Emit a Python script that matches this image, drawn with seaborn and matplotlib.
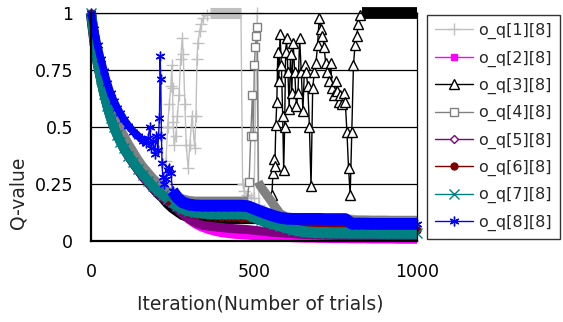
import numpy as np
import matplotlib
matplotlib.use("Agg")
import matplotlib.pyplot as plt
import seaborn as sns
from matplotlib.lines import Line2D

# ---- data ----
x_grid = [0, 10, 20, 30, 40, 50, 60, 70, 80, 90, 100,
          115, 130, 145, 160, 175, 190, 205, 220, 235, 250, 265, 280,
          300, 320, 340, 360, 380, 400, 420, 440, 460, 480, 500, 520, 540, 560, 580,
          600, 620, 640, 660, 680, 700, 720, 740, 760, 780, 800, 820, 840, 860, 880,
          900, 920, 940, 960, 980, 1000]

x1 = [0, 10, 20, 30, 40, 50, 60, 70, 80, 90, 100,
      115, 130, 145, 160, 175, 190, 205, 220,
      225, 230, 235, 240, 245, 248, 250, 252, 255, 260,
      265, 270, 275, 280, 283, 288, 292, 298, 303, 310,
      318, 322, 325, 328, 333, 338, 345, 355, 365,
      380, 400, 420, 440, 460,
      465, 470, 480, 490, 500, 510, 515,
      520, 540, 560, 580, 600, 620, 640, 660, 680, 700, 720, 740, 760, 780,
      800, 820, 840, 860, 880, 900, 920, 940, 960, 980, 1000]
q1 = [1.0, 0.9, 0.81, 0.74, 0.68, 0.625, 0.58, 0.54, 0.505, 0.475, 0.45,
      0.41, 0.375, 0.345, 0.315, 0.29, 0.265, 0.245, 0.225,
      0.25, 0.35, 0.5, 0.6, 0.68, 0.77, 0.67, 0.52, 0.42, 0.46,
      0.55, 0.64, 0.8, 0.89, 0.82, 0.6, 0.42, 0.32, 0.42, 0.55,
      0.41, 0.55, 0.8, 0.87, 0.92, 0.95, 0.98, 0.99, 1.0,
      1.0, 1.0, 1.0, 1.0, 1.0,
      0.25, 0.22, 0.2, 0.19, 0.19, 1.0, 0.16,
      0.14, 0.12, 0.11, 0.105, 0.1, 0.1, 0.1, 0.1, 0.1, 0.1, 0.095, 0.095, 0.095, 0.095,
      0.095, 0.09, 0.09, 0.09, 0.09, 0.09, 0.09, 0.09, 0.09, 0.09, 0.09]

q2 = [1.0, 0.88, 0.78, 0.71, 0.645, 0.59, 0.54, 0.5, 0.465, 0.435, 0.405,
      0.37, 0.34, 0.31, 0.28, 0.255, 0.23, 0.21, 0.19, 0.175, 0.155, 0.135, 0.115,
      0.09, 0.07, 0.056, 0.046, 0.038, 0.032, 0.028, 0.025, 0.023, 0.021, 0.019, 0.017,
      0.015, 0.013, 0.012, 0.011, 0.010, 0.009, 0.008, 0.008, 0.007, 0.007, 0.006, 0.006,
      0.006, 0.005, 0.005, 0.005, 0.004, 0.004, 0.004, 0.004, 0.003, 0.003, 0.003, 0.003]

x3 = [0, 10, 20, 30, 40, 50, 60, 70, 80, 90, 100,
      115, 130, 145, 160, 175, 190, 205, 220, 235, 250, 265, 280,
      300, 320, 340, 360, 380, 400, 420, 440, 460, 480, 500, 520, 540,
      552, 555, 558, 561, 564, 567, 570, 573, 576, 580, 584, 588, 591, 594, 597, 600,
      604, 608, 612, 616, 620,
      625, 630, 635, 640, 645, 650, 655, 660, 665, 670,
      675, 680, 685, 690, 695, 700, 705, 710, 715, 720,
      725, 730, 735, 740, 745, 750, 755, 760, 765, 770,
      775, 780, 785, 790, 795, 800, 805, 810, 815, 820, 825, 830,
      840, 860, 880, 900, 920, 940, 960, 980, 1000]
q3 = [1.0, 0.885, 0.79, 0.72, 0.655, 0.6, 0.55, 0.51, 0.475, 0.445, 0.415,
      0.38, 0.345, 0.315, 0.285, 0.26, 0.235, 0.21, 0.19, 0.165, 0.145, 0.13, 0.115,
      0.105, 0.1, 0.098, 0.097, 0.097, 0.097, 0.097, 0.097, 0.097, 0.097, 0.097, 0.097, 0.097,
      0.097, 0.2, 0.3, 0.36, 0.33, 0.51, 0.61, 0.83, 0.7, 0.91, 0.77, 0.55, 0.31, 0.5, 0.83, 0.89,
      0.74, 0.58, 0.82, 0.65, 0.87,
      0.74, 0.59, 0.65, 0.89, 0.74, 0.57, 0.77, 0.74, 0.68, 0.5,
      0.24, 0.67, 0.74, 0.78, 0.86, 0.98, 0.93, 0.9, 0.85, 0.78,
      0.74, 0.7, 0.78, 0.67, 0.64, 0.7, 0.66, 0.61, 0.64, 0.6,
      0.65, 0.61, 0.48, 0.32, 0.2, 0.48, 0.77, 0.86, 0.9, 0.95, 0.99, 1.0,
      1.0, 1.0, 1.0, 1.0, 1.0, 1.0, 1.0, 1.0, 1.0]

x4 = [0, 10, 20, 30, 40, 50, 60, 70, 80, 90, 100,
      115, 130, 145, 160, 175, 190, 205, 220, 235, 250, 265, 280,
      300, 320, 340, 360, 380, 400, 420, 440, 460, 480,
      485, 490, 495, 498, 501, 504, 507, 510, 513,
      520, 540, 560, 580, 600, 620, 640, 660, 680, 700, 720, 740, 760, 780,
      800, 820, 840, 860, 880, 900, 920, 940, 960, 980, 1000]
q4 = [1.0, 0.91, 0.825, 0.755, 0.695, 0.64, 0.595, 0.555, 0.52, 0.49, 0.465,
      0.425, 0.39, 0.355, 0.325, 0.3, 0.275, 0.255, 0.235, 0.218, 0.205, 0.195, 0.185,
      0.178, 0.175, 0.175, 0.175, 0.175, 0.175, 0.175, 0.175, 0.175, 0.176,
      0.26, 0.46, 0.64, 0.46, 0.77, 0.85, 0.9, 0.94, 0.26,
      0.24, 0.2, 0.16, 0.12, 0.105, 0.102, 0.1, 0.1, 0.1, 0.1, 0.1, 0.1, 0.1, 0.1,
      0.092, 0.092, 0.092, 0.091, 0.091, 0.091, 0.09, 0.09, 0.09, 0.09, 0.09]

q5 = [1.0, 0.88, 0.78, 0.71, 0.645, 0.59, 0.54, 0.5, 0.465, 0.435, 0.405,
      0.37, 0.34, 0.31, 0.28, 0.255, 0.23, 0.21, 0.19, 0.175, 0.16, 0.14, 0.12,
      0.097, 0.08, 0.07, 0.065, 0.062, 0.059, 0.056, 0.054, 0.052, 0.05, 0.047, 0.044,
      0.041, 0.038, 0.036, 0.034, 0.032, 0.03, 0.029, 0.028, 0.027, 0.026, 0.025, 0.024,
      0.024, 0.023, 0.022, 0.022, 0.021, 0.021, 0.02, 0.02, 0.02, 0.019, 0.019, 0.019]

q6 = [1.0, 0.88, 0.78, 0.71, 0.645, 0.59, 0.54, 0.5, 0.465, 0.435, 0.41,
      0.375, 0.34, 0.31, 0.285, 0.26, 0.235, 0.215, 0.195, 0.18, 0.165, 0.15, 0.135,
      0.125, 0.118, 0.113, 0.11, 0.108, 0.106, 0.105, 0.104, 0.103, 0.102, 0.095, 0.088,
      0.082, 0.078, 0.074, 0.071, 0.069, 0.068, 0.068, 0.07, 0.072, 0.072, 0.072, 0.072,
      0.071, 0.05, 0.05, 0.05, 0.05, 0.05, 0.049, 0.049, 0.049, 0.048, 0.048, 0.048]

q7 = [1.0, 0.88, 0.78, 0.71, 0.645, 0.59, 0.54, 0.5, 0.465, 0.435, 0.41,
      0.375, 0.345, 0.315, 0.29, 0.265, 0.24, 0.22, 0.2, 0.185, 0.17, 0.155, 0.142,
      0.132, 0.126, 0.123, 0.121, 0.12, 0.12, 0.12, 0.12, 0.12, 0.118, 0.105, 0.093,
      0.083, 0.074, 0.066, 0.058, 0.05, 0.044, 0.04, 0.038, 0.037, 0.037, 0.036, 0.036,
      0.036, 0.035, 0.035, 0.035, 0.035, 0.035, 0.034, 0.034, 0.034, 0.034, 0.034, 0.034]

x8 = [0, 10, 20, 30, 40, 50, 60, 70, 80, 90, 100,
      115, 130, 145, 160,
      170, 175, 180, 185, 190, 195, 200, 205, 210,
      212, 214, 216, 218, 220,
      225, 230, 235, 240, 245, 250,
      265, 280,
      300, 320, 340, 360, 380, 400, 420, 440, 460, 480, 500, 520, 540, 560, 580,
      600, 620, 640, 660, 680, 700, 720, 740, 760, 780, 800, 820, 840, 860, 880,
      900, 920, 940, 960, 980, 1000]
q8 = [1.0, 0.93, 0.86, 0.80, 0.745, 0.695, 0.65, 0.615, 0.585, 0.56, 0.535,
      0.505, 0.48, 0.46, 0.44,
      0.43, 0.45, 0.5, 0.41, 0.44, 0.38, 0.46, 0.4, 0.54,
      0.81, 0.71, 0.46, 0.34, 0.28,
      0.25, 0.27, 0.31, 0.32, 0.3, 0.22,
      0.19, 0.17,
      0.16, 0.156, 0.155, 0.155, 0.155, 0.155, 0.155, 0.155, 0.155, 0.153, 0.142, 0.13,
      0.12, 0.11, 0.102, 0.098, 0.097, 0.097, 0.097, 0.097, 0.097, 0.096, 0.096, 0.096,
      0.096, 0.076, 0.076, 0.076, 0.075, 0.075, 0.075, 0.075, 0.075, 0.075, 0.075, 0.075]

labels = ["o_q[1][8]", "o_q[2][8]", "o_q[3][8]", "o_q[4][8]",
          "o_q[5][8]", "o_q[6][8]", "o_q[7][8]", "o_q[8][8]"]

# ---- styles ----
sns.set_style("white")
plt.rcParams["font.family"] = ["DejaVu Sans"]

# (x, y, color, marker, ms, face, band ranges (lo, hi, lw), markers on band)
styles = [
    (x1, q1, "#C0C0C0", "+", 8.5, "none",
     [(0, 220, 7.0), (365, 460, 8.0), (520, 1000, 7.0)], False),
    (x_grid, q2, "#FF00FF", "s", 4.5, "#FF00FF", [(0, 1000, 5.0)], False),
    (x3, q3, "#000000", "^", 7.5, "white", [(0, 552, 7.5), (830, 1000, 8.5)], False),
    (x4, q4, "#808080", "s", 6.0, "white", [(0, 480, 6.5), (513, 1000, 6.5)], False),
    (x_grid, q5, "#800080", "D", 4.0, "white", [(0, 1000, 6.5)], False),
    (x_grid, q6, "#800000", "o", 5.0, "#800000", [(0, 1000, 4.5)], True),
    (x_grid, q7, "#008080", "x", 7.5, "#008080", [(0, 240, 7.0), (240, 1000, 8.0)], True),
    (x8, q8, "#0000FF", (6, 2, 0), 7.0, "#0000FF", [(0, 170, 5.5), (250, 1000, 8.5)], True),
]

fig = plt.figure(figsize=(5.63, 3.22), dpi=100)
ax = fig.add_axes([91 / 563, 1 - 241 / 322, 326 / 563, 228 / 322])

handles = []
for (xs, ys, c, m, ms, face, bands, mark_band), lab in zip(styles, labels):
    x = np.array(xs, dtype=float)
    y = np.array(ys, dtype=float)
    in_band = np.zeros(len(x), dtype=bool)
    # dense marker runs drawn as a solid band
    for lo, hi, band_lw in bands:
        seg = (x >= lo) & (x <= hi)
        in_band |= seg
        if seg.sum() > 1:
            sns.lineplot(x=x[seg], y=y[seg], color=c, lw=band_lw, sort=False,
                         estimator=None, solid_capstyle="butt", clip_on=False, ax=ax)
    marks = np.arange(len(x)) if mark_band else np.flatnonzero(~in_band)
    if len(marks):
        sns.lineplot(x=x, y=y, color=c, lw=1, sort=False, estimator=None,
                     marker=m, markersize=ms, markerfacecolor=face,
                     markeredgecolor=c, markeredgewidth=1,
                     markevery=list(marks), clip_on=False, ax=ax)
    else:
        sns.lineplot(x=x, y=y, color=c, lw=1, sort=False, estimator=None,
                     clip_on=False, ax=ax)
    handles.append(Line2D([0], [0], color=c, lw=1, marker=m, markersize=ms,
                          markerfacecolor=face, markeredgecolor=c, markeredgewidth=1))

ax.set_xlim(0, 1000)
ax.set_ylim(0, 1)
ax.set_xticks([0, 500, 1000])
ax.set_yticks([0, 0.25, 0.5, 0.75, 1])
ax.set_yticklabels(["0", "0.25", "0.5", "0.75", "1"])
ax.tick_params(axis="both", direction="in", length=3, width=1, labelsize=12.5, colors="black")
ax.tick_params(axis="y", pad=13)
ax.tick_params(axis="x", pad=16)
ax.yaxis.grid(True, color="black", lw=0.9)
ax.xaxis.grid(False)
ax.set_axisbelow(True)
for side in ["left", "bottom"]:
    ax.spines[side].set_linewidth(1.6)
    ax.spines[side].set_color("black")
for side in ["top", "right"]:
    ax.spines[side].set_linewidth(0.9)
    ax.spines[side].set_color("black")

ax.set_xlabel("Iteration(Number of trials)", fontsize=13.5)
ax.set_ylabel("Q-value", fontsize=13.5)
ax.xaxis.set_label_coords(0.518, -0.235)
ax.yaxis.set_label_coords(-0.196, 0.21)

leg = ax.legend(handles, labels, loc="upper left",
                bbox_to_anchor=(427 / 563, 1 - 15 / 322), bbox_transform=fig.transFigure,
                frameon=True, fancybox=False, edgecolor="black", fontsize=11.5,
                handlelength=2.4, handletextpad=0.3, labelspacing=0.7,
                borderpad=0.5, borderaxespad=0)
leg.get_frame().set_linewidth(1)

fig.savefig("out.png", dpi=100)
